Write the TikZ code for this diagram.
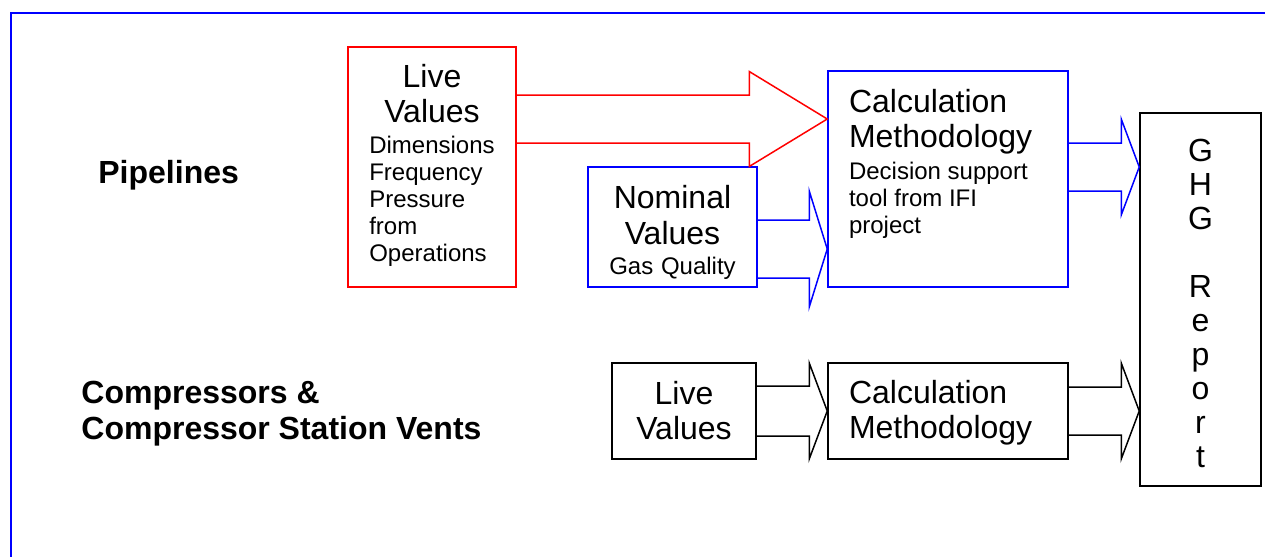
\documentclass[tikz,border=0pt]{standalone}
\usepackage{fontspec}
\setmainfont{Liberation Sans}
\usetikzlibrary{calc}
\definecolor{ghgblue}{RGB}{0, 0, 255}
\definecolor{ghgred}{RGB}{255, 0, 0}
\newcommand{\smalltext}{\fontsize{12}{13.5}\selectfont\spaceskip=0pt\relax}

% outlined block arrow: colour, from, to, y, shaft half width, head half width, head length
\newcommand{\blockarrow}[7]{%
  \draw[#1, line width=0.75pt]
    ($(#2.east |- 0,#4)+(0,-#5)$) -- ($(#3.west |- 0,#4)+(-#7,-#5)$)
    -- ($(#3.west |- 0,#4)+(-#7,-#6)$) -- (#3.west |- 0,#4)
    -- ($(#3.west |- 0,#4)+(-#7,#6)$) -- ($(#3.west |- 0,#4)+(-#7,#5)$)
    -- ($(#2.east |- 0,#4)+(0,#5)$);}

\begin{document}
\begin{tikzpicture}[x=0.5pt, y=-0.5pt,
  box/.style={draw, line width=0.75pt, inner xsep=0pt, inner ysep=0pt},
  big/.style={font=\fontsize{16}{17.5}\selectfont},
  label/.style={font=\bfseries\fontsize{16}{18}\selectfont, inner sep=0pt}]
\useasboundingbox (0,0) rectangle (1265,557);
\draw[ghgblue, line width=1pt] (11,557) |- (1265,12.5);

\node[label, anchor=base west] (pipes) at (98,183) {Pipelines};
\node[label, anchor=base west, align=left] (comps) at (81,439) {Compressors \&\\Compressor Station Vents};

\node[box, draw=ghgred, big, text width=84pt, minimum height=120pt, align=center] (live) at (432,167)
  {Live\\Values\par\vspace{2pt}
   {\smalltext\begin{tabular}[t]{@{}l@{}}Dimensions\\Frequency\\Pressure\\from\\Operations\end{tabular}\par}};
\node[box, draw=ghgblue, big, text width=84.5pt, minimum height=60pt, align=center] (nominal) at (672.5,227)
  {Nominal\\[0.5pt]Values\par\vspace{1.5pt}
   {\smalltext Gas Quality\par}\kern-5pt};
\node[box, draw=ghgblue, big, inner xsep=10.5pt, text width=99pt, minimum height=108pt, align=left] (calc) at (948,179)
  {Calculation\\Methodology\par\vspace{2.5pt}
   {\smalltext Decision support\\tool from IFI\\project\par}\kern15pt};
\node[box, big, text width=72pt, minimum height=48pt, align=center] (livecomp) at (684,411)
  {Live\\Values};
\node[box, big, inner xsep=10.5pt, text width=99pt, minimum height=48pt, align=left] (calccomp) at (948,411)
  {Calculation\\Methodology\par\kern-2pt};
\node[box, big, text width=60.5pt, minimum height=186.5pt, align=center, font=\fontsize{16}{17}\selectfont] (ghg) at (1200.5,299.5)
  {G\\H\\G\\[17pt]R\\e\\p\\o\\r\\t\par\kern-4pt};

\blockarrow{ghgred}{live}{calc}{119}{24}{47.5}{78}
\blockarrow{ghgblue}{nominal}{calc}{249}{29}{58}{18}
\blockarrow{ghgblue}{calc}{ghg}{167}{24}{48}{18}
\blockarrow{black}{livecomp}{calccomp}{411}{25}{48}{18}
\blockarrow{black}{calccomp}{ghg}{411}{24}{48}{18}
\end{tikzpicture}
\end{document}
